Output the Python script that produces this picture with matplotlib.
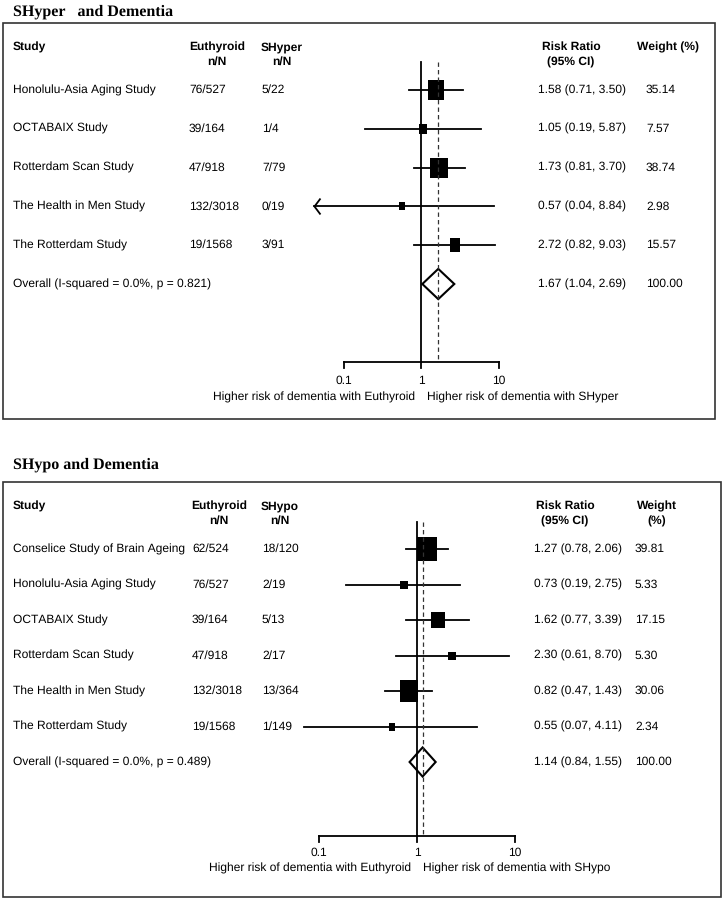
import matplotlib
matplotlib.use('Agg')
import matplotlib.pyplot as plt
import matplotlib.patches as patches
from matplotlib.transforms import blended_transform_factory
import numpy as np

plt.rcParams['font.family'] = ['Liberation Sans', 'DejaVu Sans']
plt.rcParams['text.hinting'] = 'no_hinting'
plt.rcParams['text.hinting_factor'] = 1

# ---- data: SHyper panel ----
hyper_studies = ['Honolulu-Asia Aging Study', 'OCTABAIX Study', 'Rotterdam Scan Study',
                 'The Health in Men Study', 'The Rotterdam Study']
hyper_euth = ['76/527', '39/164', '47/918', '132/3018', '19/1568']
hyper_case = ['5/22', '1/4', '7/79', '0/19', '3/91']
hyper_rr = [1.58, 1.05, 1.73, 0.57, 2.72]
hyper_lo = [0.71, 0.19, 0.81, 0.04, 0.82]
hyper_hi = [3.50, 5.87, 3.70, 8.84, 9.03]
hyper_w = [35.14, 7.57, 38.74, 2.98, 15.57]
hyper_overall = (1.67, 1.04, 2.69)
hyper_overall_label = 'Overall (I-squared = 0.0%, p = 0.821)'

# ---- data: SHypo panel ----
hypo_studies = ['Conselice Study of Brain Ageing', 'Honolulu-Asia Aging Study', 'OCTABAIX Study',
                'Rotterdam Scan Study', 'The Health in Men Study', 'The Rotterdam Study']
hypo_euth = ['62/524', '76/527', '39/164', '47/918', '132/3018', '19/1568']
hypo_case = ['18/120', '2/19', '5/13', '2/17', '13/364', '1/149']
hypo_rr = [1.27, 0.73, 1.62, 2.30, 0.82, 0.55]
hypo_lo = [0.78, 0.19, 0.77, 0.61, 0.47, 0.07]
hypo_hi = [2.06, 2.75, 3.39, 8.70, 1.43, 4.11]
hypo_w = [39.81, 5.33, 17.15, 5.30, 30.06, 2.34]
hypo_overall = (1.14, 0.84, 1.55)
hypo_overall_label = 'Overall (I-squared = 0.0%, p = 0.489)'

ticks = [0.1, 1, 10]
tick_labels = ['0.1', '1', '10']

W, H = 724, 899
fig = plt.figure(figsize=(W / 100, H / 100), dpi=100)
FS = 8.6


def fx(px):
    return px / W


def fy(py):
    return 1 - py / H


def panel(title, case_name, studies, euth, case, rr, lo, hi, w, overall, overall_label, L):
    # title and box
    fig.text(fx(13), fy(L['title_y']), title, family='Liberation Serif', weight='bold',
             fontsize=11.4, va='center', ha='left')
    fig.patches.append(patches.Rectangle((fx(3), fy(L['box_bot'])), fx(L['box_r'] - 3),
                                         (L['box_bot'] - L['box_top']) / H, fill=False,
                                         edgecolor='#333333', lw=1.2,
                                         transform=fig.transFigure, figure=fig))

    # forest axes, spans the box height, log scale on x
    x0, x1 = L['ax_x']
    ax = fig.add_axes([fx(x0), fy(L['box_bot']), fx(x1 - x0), (L['box_bot'] - L['box_top']) / H])
    ax.set_xscale('log')
    dec = L['decade']
    ax.set_xlim(10 ** ((x0 - L['one_x']) / dec), 10 ** ((x1 - L['one_x']) / dec))
    sp = L['spacing']
    ax.set_ylim((L['box_bot'] - L['row0']) / sp, (L['box_top'] - L['row0']) / sp)
    ax.axis('off')
    xmin = ax.get_xlim()[0]

    def row(py):
        return (py - L['row0']) / sp

    tr = blended_transform_factory(fig.transFigure, ax.transData)
    axis_r = row(L['axis_y'])
    h1, h2 = row(L['head1']), row(L['head2'])

    # headers
    def t(px, r, s, **kw):
        ax.text(fx(px), r, s, transform=tr, fontsize=FS, va='center', clip_on=False, **kw)

    t(13, h1, 'Study', weight='bold')
    t(L['euth_hc'], h1, 'Euthyroid', weight='bold', ha='center')
    t(L['euth_hc'], h2, 'n/N', weight='bold', ha='center')
    t(L['case_hc'], h1, case_name, weight='bold', ha='center')
    t(L['case_hc'], h2, 'n/N', weight='bold', ha='center')
    t(L['rr_hc'], h1, 'Risk Ratio', weight='bold', ha='center')
    t(L['rr_hc'], h2, '(95% CI)', weight='bold', ha='center')
    if L['weight_two_lines']:
        t(L['w_hc'], h1, 'Weight', weight='bold', ha='center')
        t(L['w_hc'], h2, '(%)', weight='bold', ha='center')
    else:
        t(L['w_hc'], h1, 'Weight (%)', weight='bold', ha='center')

    # study rows
    for i, name in enumerate(studies):
        t(13, i, name)
        t(L['euth_x'], i, euth[i])
        t(L['case_x'], i, case[i])
        t(L['rr_x'], i, '%.2f (%.2f, %.2f)' % (rr[i], lo[i], hi[i]))
        t(L['w_x'], i, '%.2f' % w[i])
        if lo[i] < xmin:
            # CI runs off the scale: open chevron at the left end
            ax.plot([xmin, hi[i]], [i, i], color='black', lw=1.3, clip_on=False)
            ax.plot([xmin], [i], marker=[(0.75, 1), (0, 0), (0.75, -1)], markersize=11.5,
                    mfc='none', mec='black', mew=1.3, ls='none', clip_on=False)
        else:
            ax.plot([lo[i], hi[i]], [i, i], color='black', lw=1.3, clip_on=False)
        side = max(L['sq_k'] * np.sqrt(w[i]), 6.0)  # pixels wide
        ms = side * 1.2 * 72 / 100
        ax.plot([rr[i]], [i], marker=[(-1, -1.2), (1, -1.2), (1, 1.2), (-1, 1.2)],
                markersize=ms, color='black', mec='black', mew=0, ls='none', zorder=4)

    # overall
    n = len(studies)
    est, olo, ohi = overall
    t(13, n, overall_label)
    t(L['rr_x'], n, '%.2f (%.2f, %.2f)' % overall)
    t(L['w_x'], n, '100.00')
    dh = L['dia_h']
    ax.fill([olo, est, ohi, est], [n, n - dh, n, n + dh], fill=False, edgecolor='black',
            lw=1.5, zorder=3)

    # null line, pooled dashed line
    vtop = row(L['vtop'])
    ax.plot([1, 1], [vtop, axis_r], color='black', lw=1.3, zorder=2)
    ax.plot([est, est], [vtop, axis_r], color='#333333', lw=0.9, ls=(0, (3.5, 2.5)), zorder=5)

    # bottom axis
    ax.plot([ticks[0], ticks[-1]], [axis_r, axis_r], color='black', lw=1.3)
    tk = 6 / sp
    for tv, tl in zip(ticks, tick_labels):
        ax.plot([tv, tv], [axis_r, axis_r + tk], color='black', lw=1.3)
        ax.text(tv, row(L['tick_y']), tl, fontsize=FS, ha='center', va='center')
    ax.annotate('Higher risk of dementia with Euthyroid', xy=(1, row(L['lab_y'])),
                xytext=(-6, 0), textcoords='offset pixels', fontsize=FS, ha='right',
                va='center', annotation_clip=False)
    ax.annotate('Higher risk of dementia with ' + case_name, xy=(1, row(L['lab_y'])),
                xytext=(6, 0), textcoords='offset pixels', fontsize=FS, ha='left',
                va='center', annotation_clip=False)


top_layout = dict(title_y=12, box_top=23, box_bot=419, box_r=715, ax_x=(314, 530),
                  one_x=421, decade=77.5, row0=90, spacing=38.8, axis_y=362,
                  head1=47, head2=62, vtop=62, tick_y=381, lab_y=397,
                  euth_hc=217, case_hc=282, rr_hc=571, w_hc=668,
                  euth_x=189, case_x=262, rr_x=538, w_x=646,
                  weight_two_lines=False, sq_k=2.75, dia_h=0.39)
bot_layout = dict(title_y=465, box_top=482, box_bot=897, box_r=721, ax_x=(300, 530),
                  one_x=417, decade=98, row0=549, spacing=35.5, axis_y=836,
                  head1=506, head2=521, vtop=522, tick_y=853, lab_y=868,
                  euth_hc=219, case_hc=280, rr_hc=565, w_hc=657,
                  euth_x=192, case_x=262, rr_x=534, w_x=635,
                  weight_two_lines=True, sq_k=3.2, dia_h=0.41)

panel('SHyper   and Dementia', 'SHyper', hyper_studies, hyper_euth, hyper_case, hyper_rr,
      hyper_lo, hyper_hi, hyper_w, hyper_overall, hyper_overall_label, top_layout)
panel('SHypo and Dementia', 'SHypo', hypo_studies, hypo_euth, hypo_case, hypo_rr,
      hypo_lo, hypo_hi, hypo_w, hypo_overall, hypo_overall_label, bot_layout)

fig.savefig('out.png', dpi=100)
